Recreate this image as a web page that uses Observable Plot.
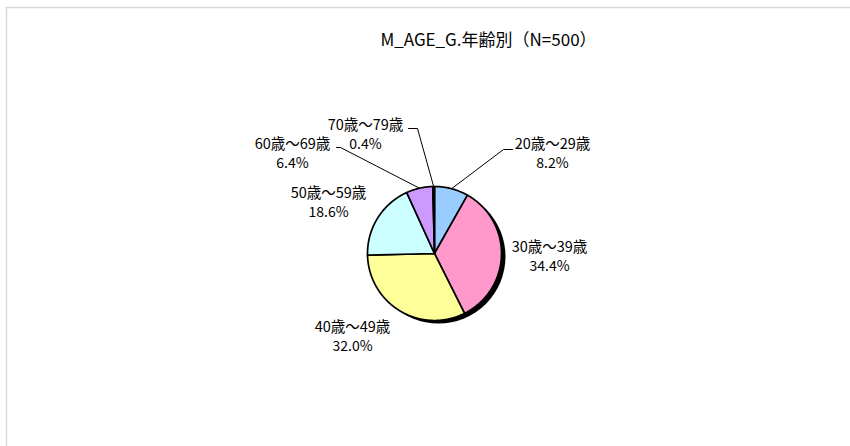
<!DOCTYPE html>
<html>
<head>
<meta charset="utf-8">
<script src="https://cdn.jsdelivr.net/npm/d3@7"></script>
<script src="https://cdn.jsdelivr.net/npm/@observablehq/plot@0.6"></script>
<style>
  html, body { margin: 0; padding: 0; background: #fff; }
  #chart svg { display: block; }
</style>
</head>
<body>
<div id="chart"></div>
<script>
// ---- data ----
const title = "M_AGE_G.年齢別（N=500）";
const categories = ["20歳～29歳", "30歳～39歳", "40歳～49歳", "50歳～59歳", "60歳～69歳", "70歳～79歳"];
const percents = [8.2, 34.4, 32.0, 18.6, 6.4, 0.4];
const sliceColors = ["#99ccff", "#ff99cc", "#ffff99", "#ccffff", "#cc99ff", "#000000"];

// ---- layout (pixels) ----
const W = 850, H = 446;
const cx = 434, cy = 253, R = 67;
const font = "'Noto Sans CJK JP', 'Noto Sans', sans-serif";
// label name-line centre relative to pie centre; leader elbow/end relative to label centre
const labelLayout = [
  {dx: 118, dy: -109, leader: {elbow: [-49, 5], end: [-40, 5]}},
  {dx: 115, dy: -6,   leader: null},
  {dx: -82, dy: 74,   leader: null},
  {dx: -106, dy: -60, leader: null},
  {dx: -142, dy: -109, leader: {elbow: [48, 3], end: [44, 3]}},
  {dx: -69, dy: -128, leader: {elbow: [52, 3], end: [43, 3]}}
];

const arcs = d3.pie().sort(null).value(d => d)(percents);
const px = (a, r) => cx + r * Math.sin(a);
const py = (a, r) => cy - r * Math.cos(a);

// slice polygons
const poly = [];
arcs.forEach((a, i) => {
  const n = Math.max(2, Math.ceil((a.endAngle - a.startAngle) / 0.01) + 1);
  poly.push({k: i, x: cx, y: cy, c: sliceColors[i]});
  for (let j = 0; j < n; j++) {
    const t = a.startAngle + (a.endAngle - a.startAngle) * j / (n - 1);
    poly.push({k: i, x: px(t, R), y: py(t, R), c: sliceColors[i]});
  }
  poly.push({k: i, x: cx, y: cy, c: sliceColors[i]});
});

const labels = arcs.map((a, i) => ({
  name: categories[i],
  pct: percents[i].toFixed(1) + "%",
  x: cx + labelLayout[i].dx,
  y: cy + labelLayout[i].dy
}));

const leaders = [];
arcs.forEach((a, i) => {
  const L = labelLayout[i].leader;
  if (!L) return;
  const mid = (a.startAngle + a.endAngle) / 2;
  const lx = labels[i].x, ly = labels[i].y;
  leaders.push({k: i, x: px(mid, R), y: py(mid, R)});
  leaders.push({k: i, x: lx + L.elbow[0], y: ly + L.elbow[1]});
  leaders.push({k: i, x: lx + L.end[0], y: ly + L.end[1]});
});

const chart = Plot.plot({
  width: W, height: H,
  margin: 0,
  x: {domain: [0, W], range: [0, W], axis: null},
  y: {domain: [0, H], range: [0, H], axis: null},
  color: {type: "identity"},
  style: {fontFamily: font, background: "#fff"},
  marks: [
    // frame
    Plot.ruleY([7], {x1: 6, x2: W, stroke: "#d9d9d9", strokeWidth: 1.5}),
    Plot.ruleX([6], {y1: 7, y2: H, stroke: "#d9d9d9", strokeWidth: 1.5}),
    // title
    Plot.text([title], {x: () => 488, y: () => 40, text: d => d, fontSize: 17, fill: "#000"}),
    // shadow
    Plot.dot([{x: cx + 4, y: cy + 3}], {x: "x", y: "y", r: R, fill: "#000", stroke: "none"}),
    // slices
    Plot.line(poly, {x: "x", y: "y", z: "k", fill: "c", stroke: "#000", strokeWidth: 1.7, curve: "linear", strokeLinejoin: "round"}),
    // leaders
    Plot.line(leaders, {x: "x", y: "y", z: "k", stroke: "#000", strokeWidth: 1, curve: "linear"}),
    // labels
    Plot.text(labels, {x: "x", y: "y", text: "name", fontSize: 14.5, fill: "#000"}),
    Plot.text(labels, {x: "x", y: d => d.y + 19.5, text: "pct", fontSize: 14, fill: "#000"})
  ]
});
document.getElementById("chart").appendChild(chart);
</script>
</body>
</html>
